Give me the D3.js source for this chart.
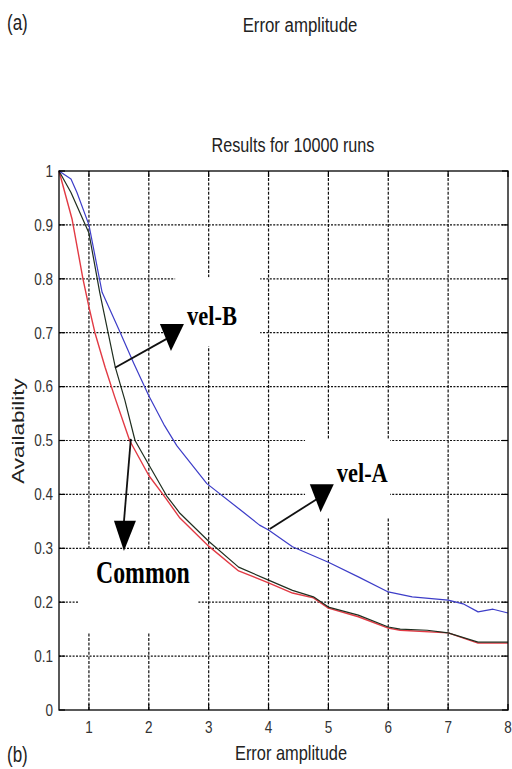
<!DOCTYPE html>
<html><head><meta charset="utf-8">
<script src="https://cdn.jsdelivr.net/npm/d3@7"></script>
<style>body{margin:0;background:#fff}svg{display:block}</style>
</head><body>
<script>
// ---- data ----
const xTicks = [1,2,3,4,5,6,7,8];
const yTicks = [0,0.1,0.2,0.3,0.4,0.5,0.6,0.7,0.8,0.9,1];
const yTickLabels = ["0","0.1","0.2","0.3","0.4","0.5","0.6","0.7","0.8","0.9","1"];

const velA_x = [0.5,0.7,0.8,1.0,1.22,1.5,1.75,2.0,2.25,2.47,2.97,3.5,3.85,4.0,4.4,5.0,5.5,6.0,6.4,7.0,7.25,7.5,7.75,8.0];
const velA_y = [1.0,0.985,0.96,0.9,0.775,0.706,0.643,0.583,0.53,0.49,0.42,0.374,0.343,0.334,0.303,0.274,0.247,0.219,0.21,0.204,0.197,0.182,0.187,0.18];

const velB_x = [0.5,0.7,1.0,1.18,1.44,1.6,1.77,2.0,2.3,2.52,3.0,3.5,4.0,4.4,4.75,5.0,5.5,6.0,6.2,6.65,7.0,7.5,8.0];
const velB_y = [1.0,0.96,0.885,0.775,0.636,0.575,0.5,0.455,0.397,0.365,0.313,0.265,0.241,0.222,0.21,0.191,0.176,0.154,0.15,0.148,0.143,0.126,0.126];

const common_x = [0.5,0.72,0.9,1.0,1.1,1.27,1.43,1.68,2.0,2.27,2.52,3.0,3.5,4.0,4.4,4.75,5.0,5.5,6.0,6.2,7.0,7.5,8.0];
const common_y = [1.0,0.91,0.80,0.748,0.70,0.636,0.581,0.50,0.435,0.395,0.356,0.304,0.258,0.236,0.217,0.208,0.189,0.173,0.152,0.148,0.143,0.124,0.124];

const W = 512, H = 769;
const svg = d3.select("body").append("svg").attr("width", W).attr("height", H);
const x = d3.scaleLinear().domain([0.5, 8]).range([59, 508]);
const y = d3.scaleLinear().domain([0, 1]).range([710, 171]);

function txt(px, py, s, o) {
  o = o || {};
  const g = svg.append("g").attr("transform", `translate(${px},${py}) rotate(${o.rot||0}) scale(${o.sx||1},${o.sy||1})`);
  return g.append("text").text(s)
    .attr("font-family", o.family || "'Liberation Sans', Arial, sans-serif")
    .attr("font-size", o.size || 13)
    .attr("font-weight", o.weight || "normal")
    .attr("text-anchor", o.anchor || "start")
    .attr("fill", o.fill || "#222");
}

// ---- grid ----
const grid = svg.append("g").attr("stroke", "#111").attr("stroke-width", 1.2).attr("fill", "none");
xTicks.filter(d => d < 8).forEach(d => {
  grid.append("line").attr("x1", x(d)).attr("x2", x(d)).attr("y1", y(0)).attr("y2", y(1))
    .attr("stroke-dasharray", "3,1.6");
});
yTicks.filter(d => d > 0 && d < 1).forEach(d => {
  grid.append("line").attr("x1", x(0.5)).attr("x2", x(8)).attr("y1", y(d)).attr("y2", y(d))
    .attr("stroke-dasharray", "2,1.4");
});

// white label boxes (annotation backgrounds)
const boxes = [
  {x0: 2.44, x1: 3.86, y0: 0.803, y1: 0.675},
  {x0: 4.61, x1: 6.03, y0: 0.503, y1: 0.357},
  {x0: 0.82, x1: 2.82, y0: 0.298, y1: 0.143}
];
boxes.forEach(b => {
  svg.append("rect").attr("x", x(b.x0)).attr("y", y(b.y0))
    .attr("width", x(b.x1) - x(b.x0)).attr("height", y(b.y1) - y(b.y0)).attr("fill", "#fff");
});

// ---- curves ----
const line = d3.line().x(d => x(d[0])).y(d => y(d[1]));
function curve(xs, ys, color, w) {
  svg.append("path").datum(xs.map((v, i) => [v, ys[i]]))
    .attr("d", line).attr("fill", "none").attr("stroke", color).attr("stroke-width", w)
    .attr("stroke-linejoin", "round");
}
curve(common_x, common_y, "#e23a44", 1.4);
curve(velB_x, velB_y, "#1f2e1f", 1.2);
curve(velA_x, velA_y, "#3d3dc8", 1.2);

// ---- axes frame + ticks ----
const fr = svg.append("g").attr("stroke", "#000").attr("fill", "none");
fr.append("rect").attr("x", x(0.5)).attr("y", y(1)).attr("width", x(8) - x(0.5)).attr("height", y(0) - y(1)).attr("stroke-width", 1.3);
xTicks.forEach(d => {
  fr.append("line").attr("x1", x(d)).attr("x2", x(d)).attr("y1", y(0)).attr("y2", y(0) - 6).attr("stroke-width", 1.2);
  fr.append("line").attr("x1", x(d)).attr("x2", x(d)).attr("y1", y(1)).attr("y2", y(1) + 6).attr("stroke-width", 1.2);
});
yTicks.forEach(d => {
  fr.append("line").attr("x1", x(0.5)).attr("x2", x(0.5) + 6).attr("y1", y(d)).attr("y2", y(d)).attr("stroke-width", 1.2);
  fr.append("line").attr("x1", x(8)).attr("x2", x(8) - 6).attr("y1", y(d)).attr("y2", y(d)).attr("stroke-width", 1.2);
});

// tick labels
xTicks.forEach(d => txt(x(d), 733, String(d), {size: 13.5, sy: 1.28, anchor: "middle", fill: "#333"}));
yTicks.forEach((d, i) => txt(53, y(d) + 5.8, yTickLabels[i], {size: 13.5, sy: 1.28, anchor: "end", fill: "#333"}));

// ---- annotations ----
const ann = svg.append("g");
function arrow(x0, y0, x1, y1, tri) {
  ann.append("line").attr("x1", x(x0)).attr("y1", y(y0)).attr("x2", x(x1)).attr("y2", y(y1))
    .attr("stroke", "#111").attr("stroke-width", 1.8);
  ann.append("path").attr("d", "M" + tri.map(p => x(p[0]) + "," + y(p[1])).join("L") + "Z").attr("fill", "#000");
}
arrow(1.435, 0.635, 2.32, 0.69, [[2.186, 0.716], [2.587, 0.716], [2.37, 0.666]]);
arrow(4.02, 0.336, 4.89, 0.397, [[4.69, 0.419], [5.09, 0.419], [4.87, 0.367]]);
arrow(1.70, 0.503, 1.585, 0.35, [[1.418, 0.351], [1.785, 0.351], [1.585, 0.295]]);

const serif = "'Liberation Serif', 'Times New Roman', serif";
txt(x(2.637), y(0.714), "vel-B", {size: 22.5, sy: 1.18, family: serif, weight: "bold", fill: "#000"});
txt(x(5.14), y(0.423), "vel-A", {size: 22.4, sy: 1.18, family: serif, weight: "bold", fill: "#000"});
txt(x(1.118), y(0.236), "Common", {size: 23.8, sy: 1.3, family: serif, weight: "bold", fill: "#000"});

// ---- titles / labels ----
txt(293, 152, "Results for 10000 runs", {size: 16.2, sy: 1.29, anchor: "middle"});
txt(291, 760, "Error amplitude", {size: 16.4, sy: 1.28, anchor: "middle"});
txt(300, 32, "Error amplitude", {size: 16.8, sy: 1.25, anchor: "middle"});
txt(24, 431, "Availability", {size: 16, sx: 1.4, rot: -90, anchor: "middle"});
txt(7, 762, "(b)", {size: 17, sy: 1.25});
txt(7, 30, "(a)", {size: 17, sy: 1.25});
</script>
</body></html>
